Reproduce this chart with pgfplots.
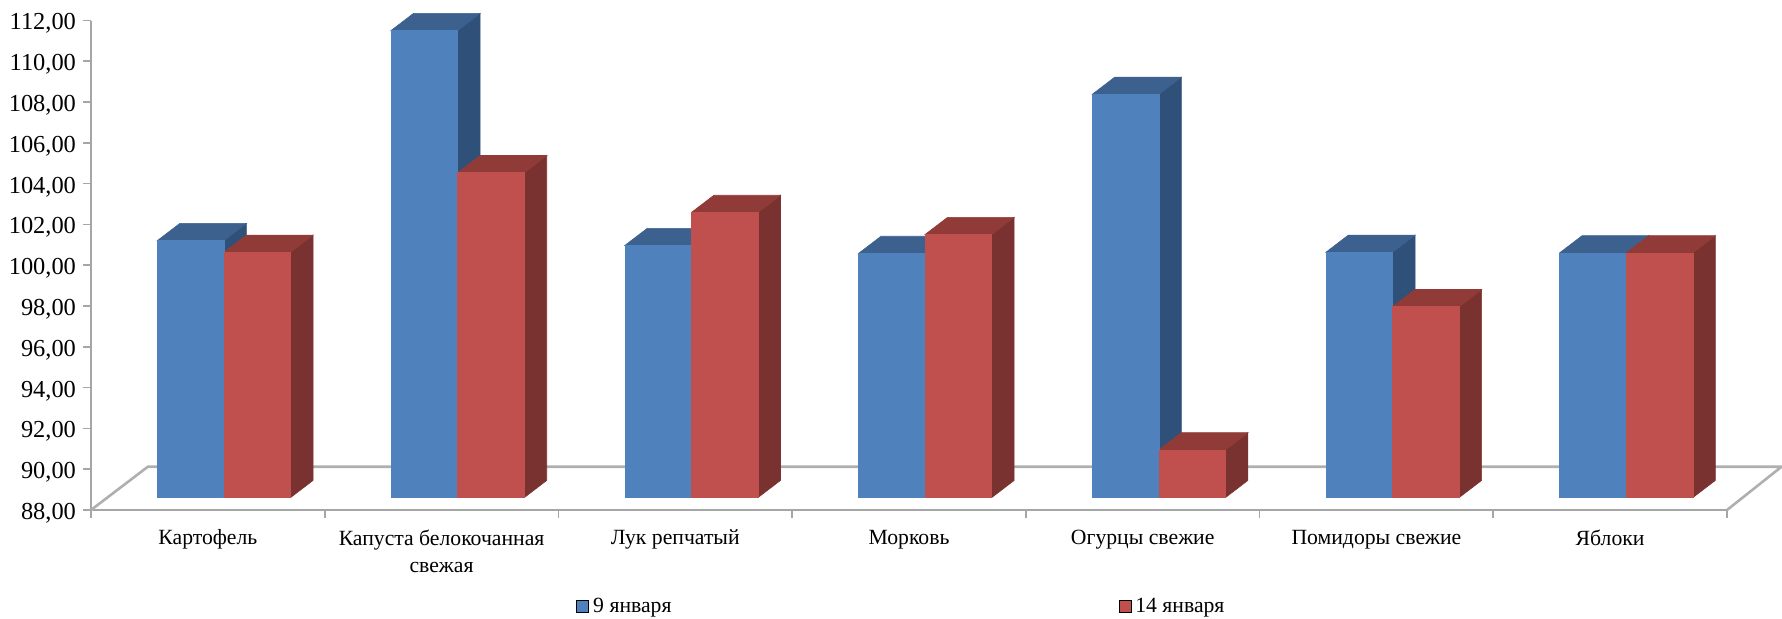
\documentclass[border=0pt]{standalone}
\usepackage{pgfplots}
\pgfplotsset{compat=1.18}
\usepackage{fontspec}
\setmainfont{Liberation Serif}
\definecolor{bf}{HTML}{4F81BD}\definecolor{bs}{HTML}{2F5179}\definecolor{bt}{HTML}{3C618E}
\definecolor{rf}{HTML}{C0504D}\definecolor{rs}{HTML}{7A3230}\definecolor{rt}{HTML}{913B39}
\definecolor{ax}{HTML}{A6A6A6}
% one 3D box: #1 left x of front face, #2 value, #3 colour family prefix
\newcommand\boxback[3]{%
 \pgfmathsetmacro\xa{#1}\pgfmathsetmacro\xb{#1+0.285}\pgfmathsetmacro\xc{#1+0.285+0.096}\pgfmathsetmacro\xd{#1+0.096}%
 \pgfmathsetmacro\ya{88.61}\pgfmathsetmacro\yb{#2+0.61}\pgfmathsetmacro\yc{88.61+0.84}\pgfmathsetmacro\yd{#2+0.61+0.84}%
 \edef\tmp{\noexpand\addplot[forget plot,draw=#3s,line width=0.3pt,fill=#3s] coordinates {(\xb,\ya)(\xc,\yc)(\xc,\yd)(\xb,\yb)} -- cycle;
 \noexpand\addplot[forget plot,draw=#3t,line width=0.3pt,fill=#3t] coordinates {(\xa,\yb)(\xd,\yd)(\xc,\yd)(\xb,\yb)} -- cycle;}\tmp}
\newcommand\boxfront[3]{%
 \pgfmathsetmacro\xa{#1}\pgfmathsetmacro\xb{#1+0.285}%
 \pgfmathsetmacro\ya{88.61}\pgfmathsetmacro\yb{#2+0.61}%
 \edef\tmp{\noexpand\addplot[forget plot,draw=#3f,line width=0.3pt,fill=#3f] coordinates {(\xa,\ya)(\xb,\ya)(\xb,\yb)(\xa,\yb)} -- cycle;}\tmp}
\newcommand\pair[3]{%
 \pgfmathsetmacro\xl{#1+0.284}\pgfmathsetmacro\xr{#1+0.569}%
 \boxback{\xl}{#2}{b}\pgfmathsetmacro\xr{#1+0.569}\boxback{\xr}{#3}{r}%
 \pgfmathsetmacro\xl{#1+0.284}\boxfront{\xl}{#2}{b}\pgfmathsetmacro\xr{#1+0.569}\boxfront{\xr}{#3}{r}}
\begin{document}
\begin{tikzpicture}
\path[use as bounding box] (-45.5pt,-54pt) rectangle (845.5pt,255pt);
\begin{axis}[
 scale only axis,width=818pt,height=244.75pt,
 xmin=0,xmax=7,ymin=88,ymax=112,clip=false,
 axis x line*=bottom,axis y line*=left,
 axis line style={draw=ax,line width=1.2pt,-},
 tick style={draw=ax,line width=0.8pt},
 major tick length=4pt,
 tick align=outside,
 ytick={88,90,...,112},
 xtick={0,...,7},xticklabels={},
 extra x ticks={0.5,1.5,2.5,3.5,4.5,5.5,6.5},
 extra x tick labels={Картофель,Капуста белокочанная\\свежая,Лук репчатый,Морковь,Огурцы свежие,Помидоры свежие,Яблоки},
 extra x tick style={major tick length=0pt,tick style={draw=none}},
 xticklabel style={align=center,font=\fontsize{10.85}{13.6}\selectfont,yshift=-6.4pt},
 yticklabel style={font=\fontsize{12.2}{15}\selectfont,yshift=-1.6pt},
 /pgf/number format/.cd,assume math mode=true,fixed,fixed zerofill,precision=2,use comma,
 /pgfplots/.cd,
 legend columns=2,
 legend style={draw=none,fill=none,at={(0.496,-0.197)},anchor=center,font=\fontsize{10.85}{15}\selectfont,
  /tikz/every even column/.append style={column sep=221.5pt}},
 legend image code/.code={\fill[#1] (0pt,-3pt) rectangle (6pt,3pt);},
]
\addlegendimage{fill=bf}\addlegendentry{9 января}
\addlegendimage{fill=rf}\addlegendentry{14 января}
\addplot[forget plot,draw=ax!90,line width=1.3pt] coordinates {(0,88)(0.243,90.12)(7.233,90.12)(7,88)};
\pair{0}{100.60}{100.03}
\pair{1}{110.90}{103.93}
\pair{2}{100.36}{101.98}
\pair{3}{99.97}{100.90}
\pair{4}{107.77}{90.34}
\pair{5}{100.03}{97.36}
\pair{6}{100.00}{100.00}
\end{axis}
\end{tikzpicture}
\end{document}
